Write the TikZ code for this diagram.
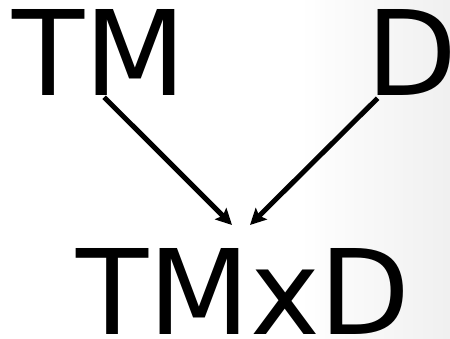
\documentclass[tikz,border=0pt]{standalone}
\usepackage{fontspec}
\setmainfont{DejaVu Sans}
\usetikzlibrary{arrows.meta}
\tikzset{
  lbl/.style={anchor=base west, inner sep=0pt, font=\fontsize{118}{118}\selectfont},
  arr/.style={line width=5pt, -{Stealth[length=16pt,width=16pt,inset=3pt]}}
}
\begin{document}
\begin{tikzpicture}[x=1pt,y=1pt]
  \useasboundingbox (0,0) rectangle (450,339);
  \fill[white] (0,0) rectangle (450,339);
  \shade[left color=white, right color=black!6] (300,0) rectangle (450,339);
  \node[lbl] (tm) at (12,243) {TM};
  \node[lbl] (d) at (366,243) {D};
  \node[lbl] (tmxd) at (76,4) {TMxD};
  \coordinate (e1) at (232,114);
  \coordinate (e2) at (250,114);
  \draw[arr] ([xshift=5pt,yshift=-1pt]tm.south) -- (e1);
  \draw[arr] ([xshift=-34pt,yshift=-2pt]d.south) -- (e2);
\end{tikzpicture}
\end{document}
